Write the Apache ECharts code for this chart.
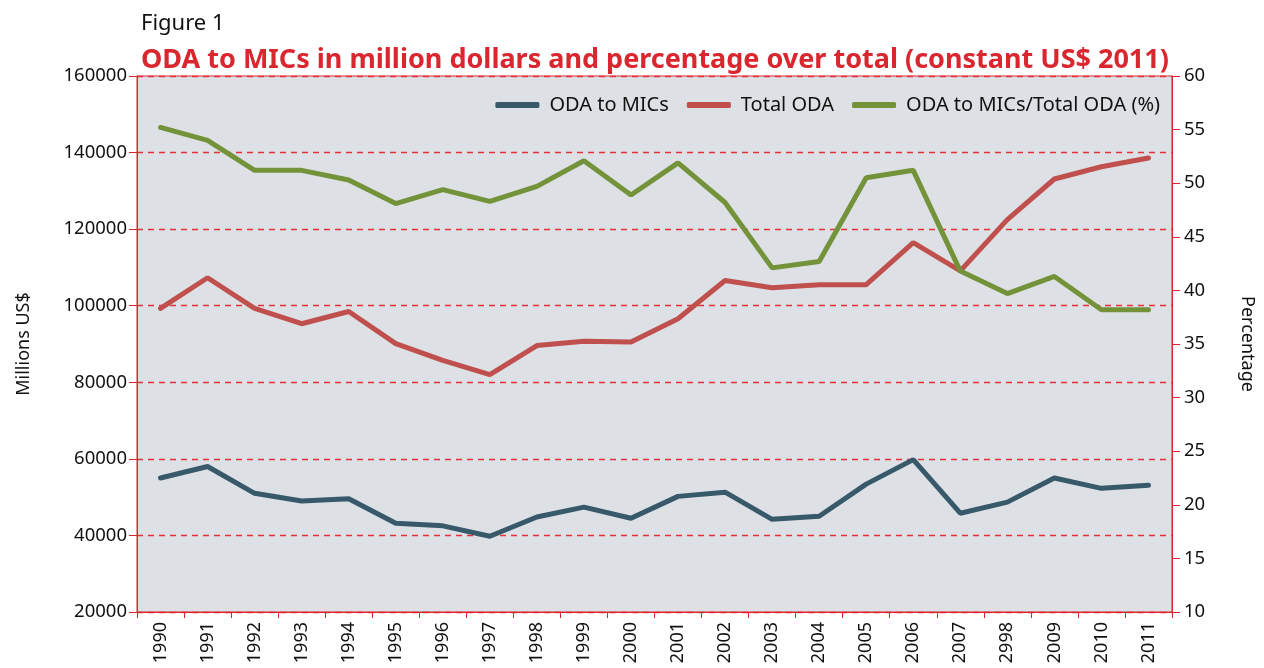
<!DOCTYPE html>
<html>
<head>
<meta charset="utf-8">
<script src="https://cdn.jsdelivr.net/npm/echarts@6/dist/echarts.min.js"></script>
<style>
  html, body { margin: 0; padding: 0; background: #fff; }
  #chart { width: 1264px; height: 668px; }
</style>
</head>
<body>
<div id="chart"></div>
<script>
const years = ["1990", "1991", "1992", "1993", "1994", "1995", "1996", "1997", "1998", "1999", "2000",
  "2001", "2002", "2003", "2004", "2005", "2006", "2007", "2998", "2009", "2010", "2011"];

// 百万美元
const odaToMics = [55000, 58000, 51000, 49000, 49600, 43200, 42500, 39800, 44800, 47400, 44500,
  50200, 51300, 44200, 45000, 53400, 59800, 45800, 48700, 55000, 52300, 53100];
const totalOda = [99300, 107300, 99300, 95300, 98500, 90100, 85700, 82000, 89600, 90700, 90500,
  96600, 106600, 104700, 105500, 105500, 116500, 109100, 122500, 133100, 136300, 138600];
// 百分比
const shareOda = [55.2, 54.0, 51.2, 51.2, 50.3, 48.1, 49.4, 48.3, 49.7, 52.1, 48.9,
  51.9, 48.2, 42.1, 42.7, 50.5, 51.2, 41.8, 39.7, 41.3, 38.2, 38.2];

const leftTicks = { min: 20000, max: 160000, interval: 20000 };
const rightTicks = { min: 10, max: 60, interval: 5 };

const red = '#d9262f';
const font = '"Noto Sans", "Open Sans", sans-serif';

const chart = echarts.init(document.getElementById('chart'));

const options = {
  animation: false,
  textStyle: { fontFamily: font },
  title: [
    {
      text: 'Figure 1',
      left: 136,
      top: 8,
      textStyle: { fontSize: 22, fontWeight: 'normal', color: '#111', fontFamily: font },
    },
    {
      text: 'ODA to MICs in million dollars and percentage over total (constant US$ 2011)',
      left: 136,
      top: 42,
      textStyle: { fontSize: 27, fontWeight: 'bold', color: red, fontFamily: font },
    },
  ],
  grid: {
    left: 137,
    right: 86,
    top: 76,
    bottom: 56,
    show: true,
    backgroundColor: '#dde0e5',
    borderColor: red,
    borderWidth: 1,
  },
  legend: {
    right: 99,
    top: 90,
    icon: 'roundRect',
    itemWidth: 44,
    itemHeight: 6,
    itemGap: 18,
    textStyle: { fontSize: 20, color: '#111', fontFamily: font, padding: [0, 0, 0, 5] },
    data: ['ODA to MICs', 'Total ODA', 'ODA to MICs/Total ODA (%)'],
  },
  xAxis: {
    type: 'category',
    data: years,
    boundaryGap: true,
    axisLine: { lineStyle: { color: red } },
    axisTick: { show: true, length: 6, lineStyle: { color: red } },
    axisLabel: { rotate: 90, interval: 0, fontSize: 18, color: '#111', margin: 10 },
  },
  yAxis: [
    {
      type: 'value',
      name: 'Millions US$',
      nameLocation: 'middle',
      nameGap: 104,
      nameTextStyle: { fontSize: 18, color: '#111' },
      min: leftTicks.min,
      max: leftTicks.max,
      interval: leftTicks.interval,
      axisLine: { show: true, lineStyle: { color: red } },
      axisTick: { show: true, length: 8, lineStyle: { color: red } },
      axisLabel: { fontSize: 18.5, color: '#111', margin: 10, formatter: (v) => String(v) },
      splitLine: { show: true, lineStyle: { color: '#e8303b', type: [6, 5], width: 1.3 } },
    },
    {
      type: 'value',
      name: 'Percentage',
      nameLocation: 'middle',
      nameGap: 66,
      nameRotate: -90,
      nameTextStyle: { fontSize: 18, color: '#111' },
      position: 'right',
      min: rightTicks.min,
      max: rightTicks.max,
      interval: rightTicks.interval,
      axisLine: { show: true, lineStyle: { color: red } },
      axisTick: { show: true, length: 8, lineStyle: { color: red } },
      axisLabel: { fontSize: 18.5, color: '#111', margin: 12 },
      splitLine: { show: false },
    },
  ],
  series: [
    {
      name: 'ODA to MICs',
      type: 'line',
      yAxisIndex: 0,
      data: odaToMics,
      color: '#37596a',
      showSymbol: false,
      symbol: 'none',
      lineStyle: { width: 5, cap: 'round' },
    },
    {
      name: 'Total ODA',
      type: 'line',
      yAxisIndex: 0,
      data: totalOda,
      color: '#c0504d',
      showSymbol: false,
      symbol: 'none',
      lineStyle: { width: 5, cap: 'round' },
    },
    {
      name: 'ODA to MICs/Total ODA (%)',
      type: 'line',
      yAxisIndex: 1,
      data: shareOda,
      color: '#73923a',
      showSymbol: false,
      symbol: 'none',
      lineStyle: { width: 5, cap: 'round' },
    },
  ],
};

chart.setOption(options);
</script>
</body>
</html>
